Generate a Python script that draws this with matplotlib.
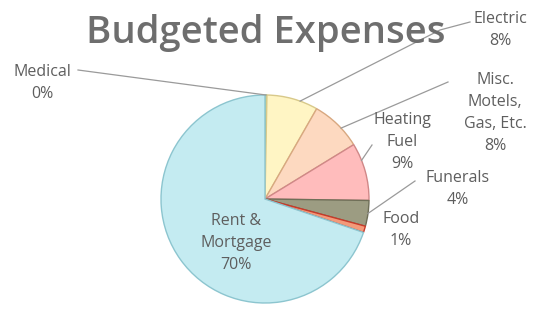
import numpy as np
import matplotlib
matplotlib.use("Agg")
import matplotlib.pyplot as plt

categories = ["Medical", "Electric", "Misc.\nMotels,\nGas, Etc.", "Heating\nFuel", "Funerals", "Food", "Rent &\nMortgage"]
values = [0.3, 8, 8, 9, 4, 1, 70]
pct_labels = ["0%", "8%", "8%", "9%", "4%", "1%", "70%"]

face = ["#d9efc0", "#fff5c4", "#fdd9c0", "#ffbcbc", "#9c9c82", "#f39a7a", "#c4ebf1"]
edge = ["#9fbf80", "#d8c98a", "#d8a880", "#d08888", "#6f6f58", "#c83a2a", "#8cc5cf"]

W, H = 542, 309
fig = plt.figure(figsize=(W / 100, H / 100), dpi=100)
ax = fig.add_axes([0, 0, 1, 1])

cx, cy, R = 265, H - 199, 104
wedges, _ = ax.pie(values, startangle=90, counterclock=False, center=(cx, cy),
                   radius=R, colors=face, frame=True,
                   wedgeprops=dict(linewidth=1.0))
for w, e in zip(wedges, edge):
    w.set_edgecolor(e)
ax.set_xlim(0, W)
ax.set_ylim(0, H)
ax.set_aspect("equal")
ax.axis("off")

txt = dict(color="#5e5e5e", fontsize=11.5, family="Open Sans", ha="center", va="center", linespacing=1.5)

def edge_pt(i, frac=0.5, r=1.0):
    w = wedges[i]
    a = np.deg2rad(w.theta1 + (w.theta2 - w.theta1) * frac)
    return cx + R * r * np.cos(a), cy + R * r * np.sin(a)

lc = "#9a9a9a"
# label positions (pixel coords, y from top)
pos = {0: (42, 83), 1: (500, 30), 2: (495, 113), 3: (402, 142), 4: (458, 189), 5: (401, 230), 6: (236, 243)}
for i, (px, py) in pos.items():
    ax.text(px, H - py, categories[i] + "\n" + pct_labels[i], **txt)

# leader lines
leaders = {0: ((78, 70), 0.5), 1: ((440, 22), 0.35), 2: ((448, 82), 0.4), 3: ((372, 145), 0.7), 4: ((415, 181), 0.5)}
for i, ((lx, ly), f) in leaders.items():
    ex, ey = edge_pt(i, f)
    if i == 1:
        pts = [(ex, ey), (lx, H - ly - 8), (lx + 30, H - ly)]
    else:
        pts = [(ex, ey), (lx, H - ly)]
    xs, ys = zip(*pts)
    ax.plot(xs, ys, color=lc, lw=0.9)

ax.text(266, H - 43, "Budgeted Expenses", color="#6e6e6e", fontsize=27.5, fontweight="semibold",
        family="Open Sans", ha="center", va="baseline")

fig.savefig("out.png", dpi=100)
